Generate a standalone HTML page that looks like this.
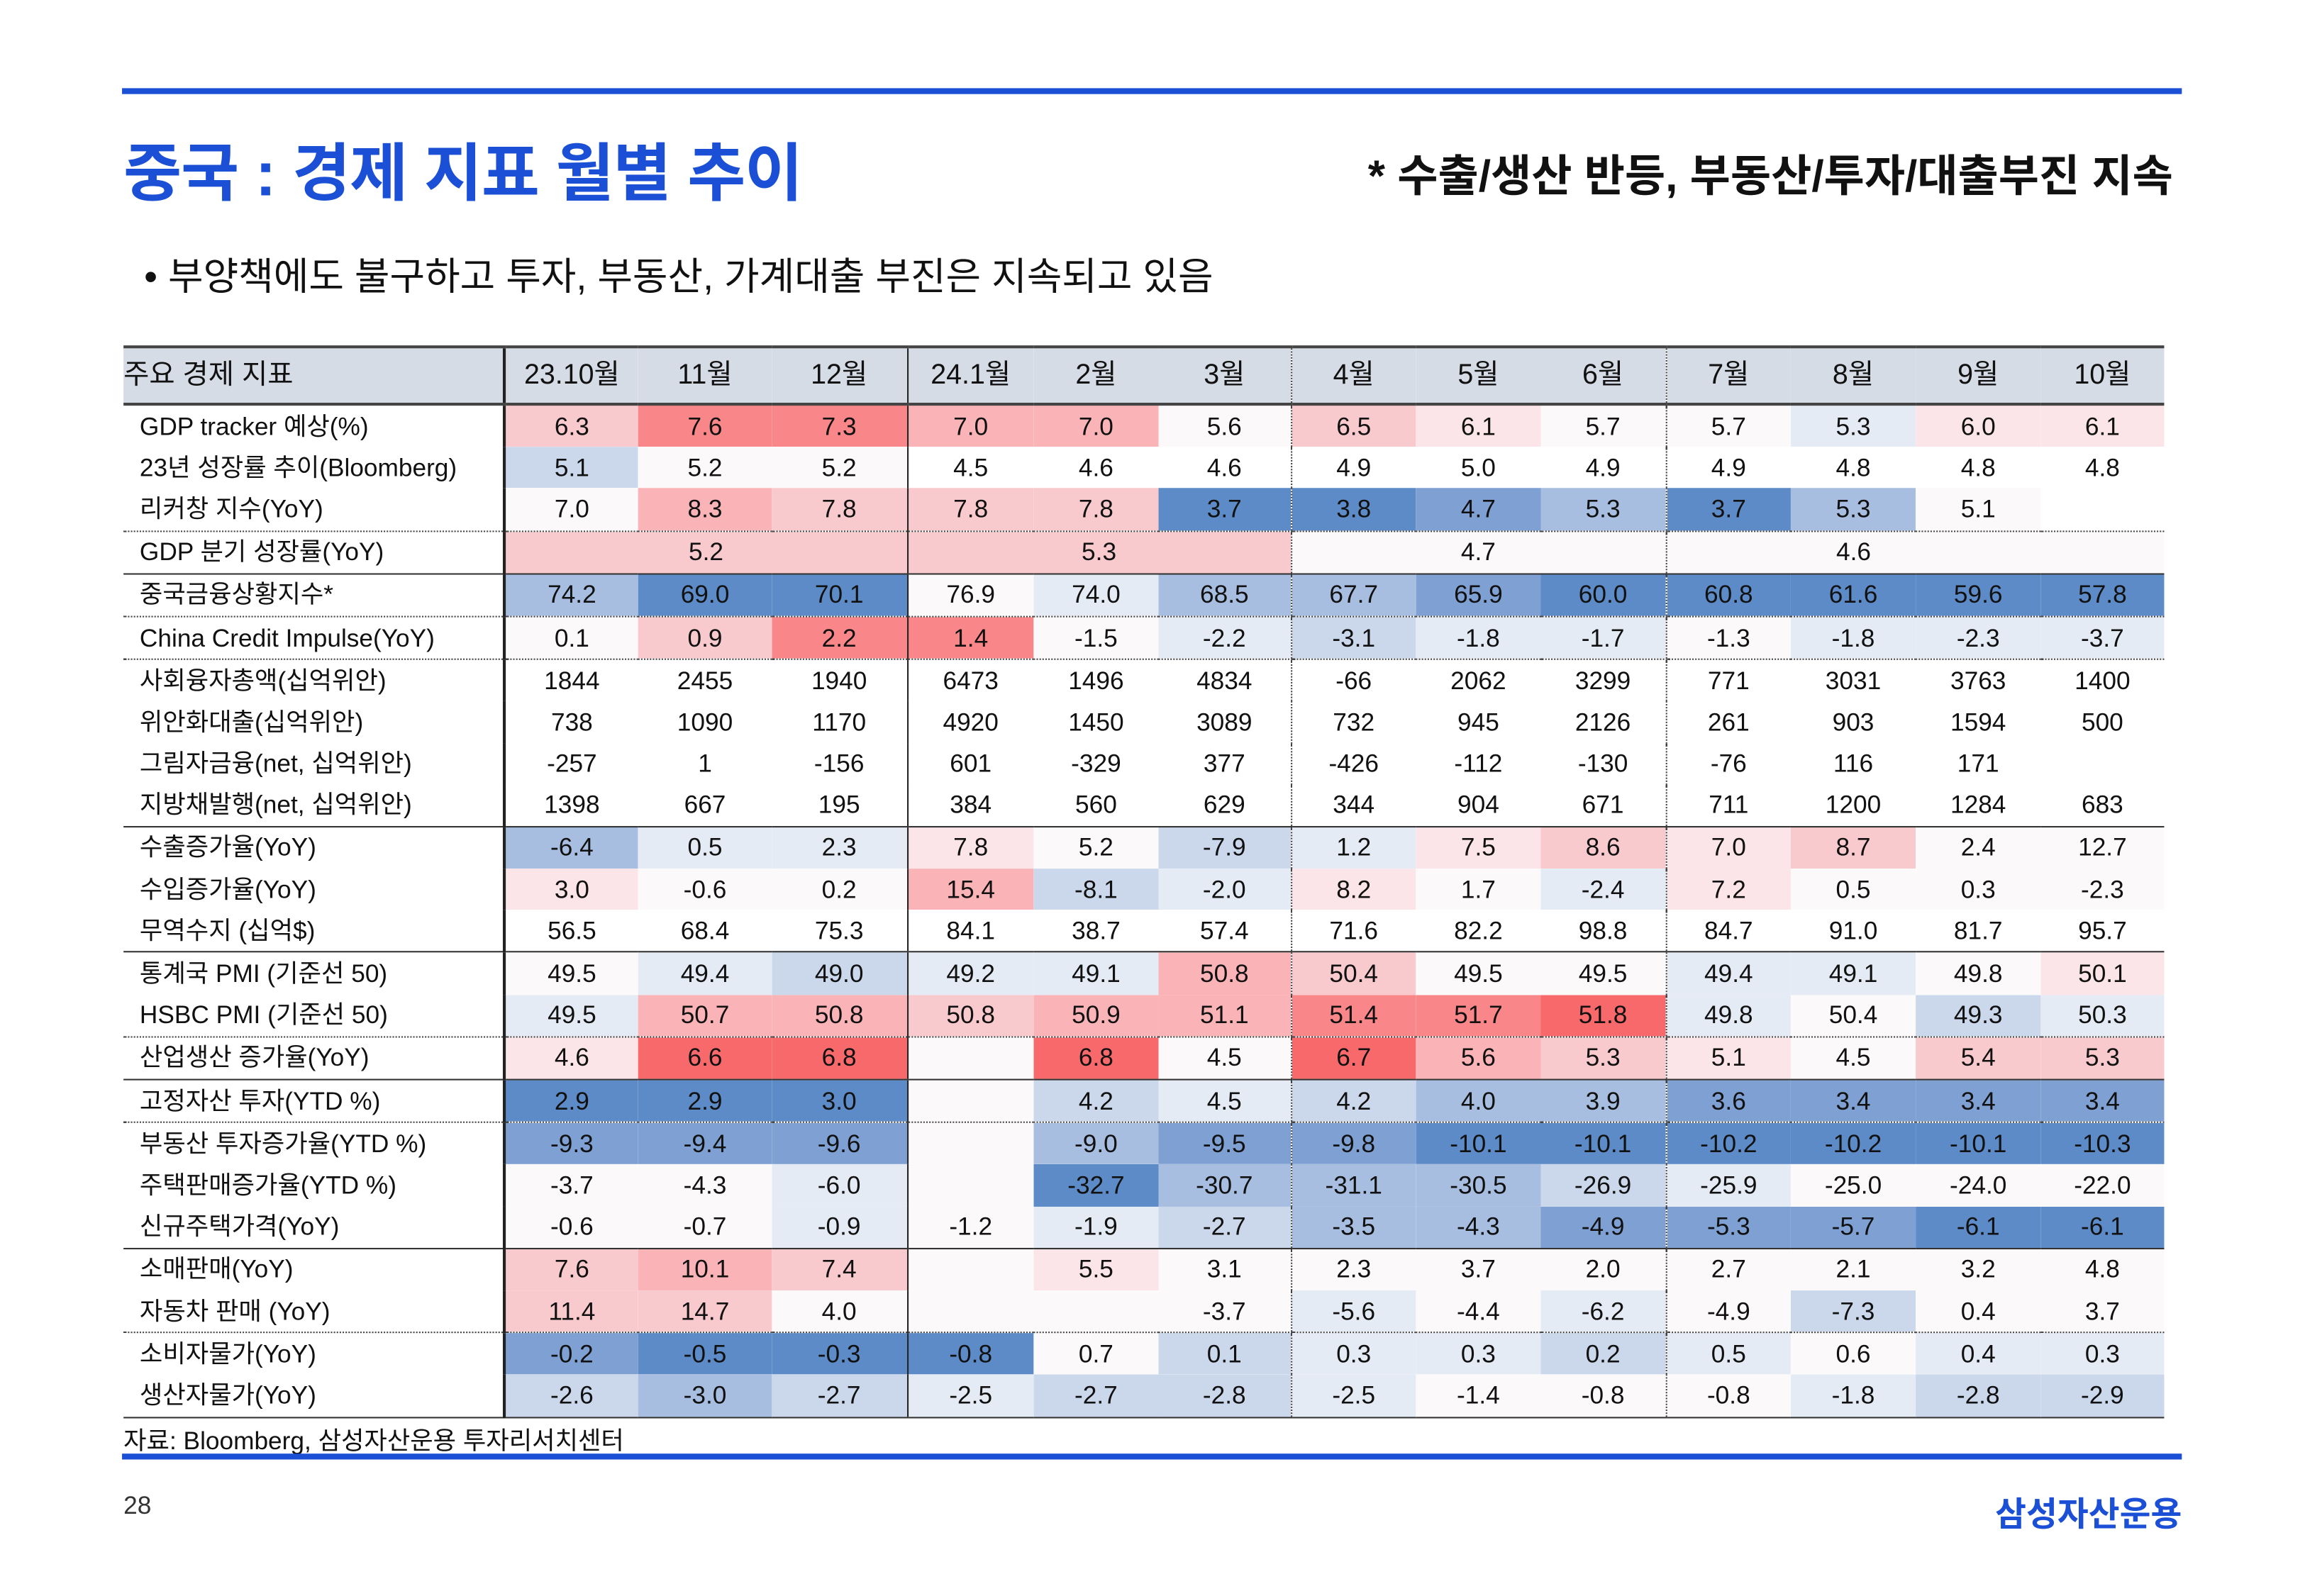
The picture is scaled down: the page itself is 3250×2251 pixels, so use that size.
<!DOCTYPE html>
<html><head><meta charset="utf-8">
<style>
html,body{margin:0;padding:0;background:#fff;}
body{width:3250px;height:2250px;overflow:hidden;position:relative;}
#w{position:absolute;left:0;top:0;width:1568px;height:1086px;transform:scale(2.073);transform-origin:0 0;font-family:"Liberation Sans","Noto Sans CJK KR",sans-serif;color:#111;}
.abs{position:absolute;white-space:nowrap;}
table{position:absolute;left:84px;top:235px;width:1388px;border-collapse:collapse;table-layout:fixed;font-size:17px;}
td,th{padding:0;text-align:center;height:28.2px;line-height:27px;overflow:hidden;white-space:nowrap;font-weight:normal;}
th{background:#d6dce6;height:37px;font-size:19px;border-top:2px solid #444;border-bottom:2px solid #444;}
td.l{text-align:left;padding-left:11px;}
th.l{text-align:left;padding-left:0;}
.c1{border-left:2px solid #222;}
.c4{border-left:1.5px solid #222;}
.c7,.c10{border-left:1px dotted #444;}
tr.d td{border-bottom:1px dotted #444;}
tr.s td{border-bottom:1.5px solid #333;}
tr.e td{border-bottom:1.5px solid #333;}
.R3{background:#f8696c}.R2{background:#f98789}.R1{background:#fab4b7}.R0{background:#f9cacd}.r{background:#fbe5e8}
.W{background:#fcf9fb}.b{background:#e5ebf5}.B0{background:#cbd8ec}.B1{background:#a7bee1}.B2{background:#7ea0d3}.B3{background:#5c8bc7}
</style></head><body><div id="w">
<div class="abs" style="left:83px;top:60px;width:1401px;height:4px;background:#1a4fd6"></div>
<div class="abs" style="left:84px;top:84px;font-size:43px;font-weight:bold;color:#1a4fd6;letter-spacing:-0.5px">중국 : 경제 지표 월별 추이</div>
<div class="abs" style="right:90px;top:95px;font-size:30px;font-weight:bold;color:#111">* 수출/생산 반등, 부동산/투자/대출부진 지속</div>
<div class="abs" style="left:98px;top:168px;font-size:26px;color:#111">• 부양책에도 불구하고 투자, 부동산, 가계대출 부진은 지속되고 있음</div>
<table>
<colgroup><col style="width:259px"><col style="width:91px"><col style="width:91px"><col style="width:92px"><col style="width:86px"><col style="width:85px"><col style="width:90px"><col style="width:85px"><col style="width:85px"><col style="width:85px"><col style="width:85px"><col style="width:85px"><col style="width:85px"><col style="width:84px"></colgroup>
<tr><th class="l">주요 경제 지표</th><th class="c1">23.10월</th><th>11월</th><th>12월</th><th class="c4">24.1월</th><th>2월</th><th>3월</th><th class="c7">4월</th><th>5월</th><th>6월</th><th class="c10">7월</th><th>8월</th><th>9월</th><th>10월</th></tr>
<tr><td class="l">GDP tracker 예상(%)</td><td class="c1 R0">6.3</td><td class="R2">7.6</td><td class="R2">7.3</td><td class="c4 R1">7.0</td><td class="R1">7.0</td><td class="W">5.6</td><td class="c7 R0">6.5</td><td class="r">6.1</td><td class="W">5.7</td><td class="c10 W">5.7</td><td class="b">5.3</td><td class="r">6.0</td><td class="r">6.1</td></tr>
<tr><td class="l">23년 성장률 추이(Bloomberg)</td><td class="c1 B0">5.1</td><td class="W">5.2</td><td class="W">5.2</td><td class="c4">4.5</td><td>4.6</td><td>4.6</td><td class="c7">4.9</td><td>5.0</td><td>4.9</td><td class="c10">4.9</td><td>4.8</td><td>4.8</td><td>4.8</td></tr>
<tr class="d"><td class="l">리커창 지수(YoY)</td><td class="c1 W">7.0</td><td class="R1">8.3</td><td class="R0">7.8</td><td class="c4 R0">7.8</td><td class="R0">7.8</td><td class="B3">3.7</td><td class="c7 B3">3.8</td><td class="B2">4.7</td><td class="B1">5.3</td><td class="c10 B3">3.7</td><td class="B1">5.3</td><td class="W">5.1</td><td></td></tr>
<tr class="s"><td class="l">GDP 분기 성장률(YoY)</td><td class="c1 R0" colspan="3">5.2</td><td class="c4 R0" colspan="3">5.3</td><td class="c7 W" colspan="3">4.7</td><td class="c10 W" colspan="3">4.6</td><td class="W"></td></tr>
<tr class="d"><td class="l">중국금융상황지수*</td><td class="c1 B1">74.2</td><td class="B3">69.0</td><td class="B3">70.1</td><td class="c4 W">76.9</td><td class="b">74.0</td><td class="B1">68.5</td><td class="c7 B1">67.7</td><td class="B2">65.9</td><td class="B3">60.0</td><td class="c10 B3">60.8</td><td class="B3">61.6</td><td class="B3">59.6</td><td class="B3">57.8</td></tr>
<tr class="d"><td class="l">China Credit Impulse(YoY)</td><td class="c1 W">0.1</td><td class="R0">0.9</td><td class="R2">2.2</td><td class="c4 R2">1.4</td><td class="W">-1.5</td><td class="b">-2.2</td><td class="c7 B0">-3.1</td><td class="b">-1.8</td><td class="b">-1.7</td><td class="c10 W">-1.3</td><td class="b">-1.8</td><td class="b">-2.3</td><td class="b">-3.7</td></tr>
<tr><td class="l">사회융자총액(십억위안)</td><td class="c1">1844</td><td>2455</td><td>1940</td><td class="c4">6473</td><td>1496</td><td>4834</td><td class="c7">-66</td><td>2062</td><td>3299</td><td class="c10">771</td><td>3031</td><td>3763</td><td>1400</td></tr>
<tr><td class="l">위안화대출(십억위안)</td><td class="c1">738</td><td>1090</td><td>1170</td><td class="c4">4920</td><td>1450</td><td>3089</td><td class="c7">732</td><td>945</td><td>2126</td><td class="c10">261</td><td>903</td><td>1594</td><td>500</td></tr>
<tr><td class="l">그림자금융(net, 십억위안)</td><td class="c1">-257</td><td>1</td><td>-156</td><td class="c4">601</td><td>-329</td><td>377</td><td class="c7">-426</td><td>-112</td><td>-130</td><td class="c10">-76</td><td>116</td><td>171</td><td></td></tr>
<tr class="s"><td class="l">지방채발행(net, 십억위안)</td><td class="c1">1398</td><td>667</td><td>195</td><td class="c4">384</td><td>560</td><td>629</td><td class="c7">344</td><td>904</td><td>671</td><td class="c10">711</td><td>1200</td><td>1284</td><td>683</td></tr>
<tr><td class="l">수출증가율(YoY)</td><td class="c1 B1">-6.4</td><td class="b">0.5</td><td class="b">2.3</td><td class="c4 r">7.8</td><td class="W">5.2</td><td class="B0">-7.9</td><td class="c7 b">1.2</td><td class="r">7.5</td><td class="R0">8.6</td><td class="c10 r">7.0</td><td class="R0">8.7</td><td class="W">2.4</td><td class="W">12.7</td></tr>
<tr><td class="l">수입증가율(YoY)</td><td class="c1 r">3.0</td><td class="W">-0.6</td><td class="W">0.2</td><td class="c4 R1">15.4</td><td class="B0">-8.1</td><td class="b">-2.0</td><td class="c7 r">8.2</td><td class="W">1.7</td><td class="b">-2.4</td><td class="c10 r">7.2</td><td class="W">0.5</td><td class="W">0.3</td><td class="W">-2.3</td></tr>
<tr class="s"><td class="l">무역수지 (십억$)</td><td class="c1">56.5</td><td>68.4</td><td>75.3</td><td class="c4">84.1</td><td>38.7</td><td>57.4</td><td class="c7">71.6</td><td>82.2</td><td>98.8</td><td class="c10">84.7</td><td>91.0</td><td>81.7</td><td>95.7</td></tr>
<tr><td class="l">통계국 PMI (기준선 50)</td><td class="c1 W">49.5</td><td class="b">49.4</td><td class="B0">49.0</td><td class="c4 b">49.2</td><td class="b">49.1</td><td class="R1">50.8</td><td class="c7 R0">50.4</td><td class="W">49.5</td><td class="W">49.5</td><td class="c10 b">49.4</td><td class="b">49.1</td><td class="W">49.8</td><td class="r">50.1</td></tr>
<tr class="d"><td class="l">HSBC PMI (기준선 50)</td><td class="c1 b">49.5</td><td class="R1">50.7</td><td class="R1">50.8</td><td class="c4 R0">50.8</td><td class="R1">50.9</td><td class="R1">51.1</td><td class="c7 R2">51.4</td><td class="R2">51.7</td><td class="R3">51.8</td><td class="c10 b">49.8</td><td class="W">50.4</td><td class="B0">49.3</td><td class="b">50.3</td></tr>
<tr class="s"><td class="l">산업생산 증가율(YoY)</td><td class="c1 r">4.6</td><td class="R3">6.6</td><td class="R3">6.8</td><td class="c4 W"></td><td class="R3">6.8</td><td class="W">4.5</td><td class="c7 R3">6.7</td><td class="R1">5.6</td><td class="R0">5.3</td><td class="c10 r">5.1</td><td class="W">4.5</td><td class="R0">5.4</td><td class="R0">5.3</td></tr>
<tr class="d"><td class="l">고정자산 투자(YTD %)</td><td class="c1 B3">2.9</td><td class="B3">2.9</td><td class="B3">3.0</td><td class="c4 W"></td><td class="B0">4.2</td><td class="b">4.5</td><td class="c7 B0">4.2</td><td class="B1">4.0</td><td class="B1">3.9</td><td class="c10 B2">3.6</td><td class="B2">3.4</td><td class="B2">3.4</td><td class="B2">3.4</td></tr>
<tr><td class="l">부동산 투자증가율(YTD %)</td><td class="c1 B2">-9.3</td><td class="B2">-9.4</td><td class="B2">-9.6</td><td class="c4 W"></td><td class="B1">-9.0</td><td class="B2">-9.5</td><td class="c7 B2">-9.8</td><td class="B3">-10.1</td><td class="B3">-10.1</td><td class="c10 B3">-10.2</td><td class="B3">-10.2</td><td class="B3">-10.1</td><td class="B3">-10.3</td></tr>
<tr><td class="l">주택판매증가율(YTD %)</td><td class="c1 W">-3.7</td><td class="W">-4.3</td><td class="b">-6.0</td><td class="c4 W"></td><td class="B3">-32.7</td><td class="B1">-30.7</td><td class="c7 B1">-31.1</td><td class="B1">-30.5</td><td class="B0">-26.9</td><td class="c10 b">-25.9</td><td class="W">-25.0</td><td class="W">-24.0</td><td class="W">-22.0</td></tr>
<tr class="s"><td class="l">신규주택가격(YoY)</td><td class="c1 W">-0.6</td><td class="W">-0.7</td><td class="b">-0.9</td><td class="c4 W">-1.2</td><td class="b">-1.9</td><td class="B0">-2.7</td><td class="c7 B1">-3.5</td><td class="B1">-4.3</td><td class="B2">-4.9</td><td class="c10 B2">-5.3</td><td class="B2">-5.7</td><td class="B3">-6.1</td><td class="B3">-6.1</td></tr>
<tr><td class="l">소매판매(YoY)</td><td class="c1 R0">7.6</td><td class="R1">10.1</td><td class="R0">7.4</td><td class="c4 W"></td><td class="r">5.5</td><td class="W">3.1</td><td class="c7 W">2.3</td><td class="W">3.7</td><td class="W">2.0</td><td class="c10 W">2.7</td><td class="W">2.1</td><td class="W">3.2</td><td class="W">4.8</td></tr>
<tr class="d"><td class="l">자동차 판매 (YoY)</td><td class="c1 R0">11.4</td><td class="R0">14.7</td><td class="W">4.0</td><td class="c4 W"></td><td class="W"></td><td class="W">-3.7</td><td class="c7 b">-5.6</td><td class="W">-4.4</td><td class="b">-6.2</td><td class="c10 W">-4.9</td><td class="B0">-7.3</td><td class="W">0.4</td><td class="W">3.7</td></tr>
<tr><td class="l">소비자물가(YoY)</td><td class="c1 B2">-0.2</td><td class="B3">-0.5</td><td class="B3">-0.3</td><td class="c4 B3">-0.8</td><td class="W">0.7</td><td class="B0">0.1</td><td class="c7 b">0.3</td><td class="b">0.3</td><td class="B0">0.2</td><td class="c10 b">0.5</td><td class="W">0.6</td><td class="b">0.4</td><td class="b">0.3</td></tr>
<tr class="e"><td class="l">생산자물가(YoY)</td><td class="c1 B0">-2.6</td><td class="B1">-3.0</td><td class="B0">-2.7</td><td class="c4 b">-2.5</td><td class="B0">-2.7</td><td class="B0">-2.8</td><td class="c7 b">-2.5</td><td class="W">-1.4</td><td class="W">-0.8</td><td class="c10 W">-0.8</td><td class="b">-1.8</td><td class="B0">-2.8</td><td class="B0">-2.9</td></tr>
</table>
<div class="abs" style="left:84px;top:966px;font-size:17px">자료: Bloomberg, 삼성자산운용 투자리서치센터</div>
<div class="abs" style="left:83px;top:989px;width:1401px;height:4px;background:#1a4fd6"></div>
<div class="abs" style="left:84px;top:1015px;font-size:17px;color:#333">28</div>
<div class="abs" style="right:84px;top:1011px;font-size:23px;font-weight:bold;color:#1a4fd6">삼성자산운용</div>
</div></body></html>
